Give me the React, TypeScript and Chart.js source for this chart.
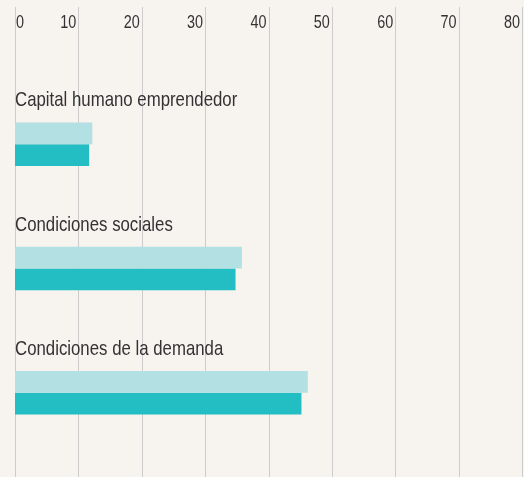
import React, { useEffect, useRef } from "react";
import { Chart, registerables } from "chart.js";

Chart.register(...registerables);

const categories = ["Capital humano emprendedor", "Condiciones sociales", "Condiciones de la demanda"];
const seriesLightValues = [12.2, 35.8, 46.2];
const seriesDarkValues = [11.7, 34.8, 45.2];
const tickValues = [0, 10, 20, 30, 40, 50, 60, 70, 80];

const FONT = '"Liberation Sans", Arial, sans-serif';
const BG = "#f7f3ef";
const SQUEEZE = 0.8;

function narrowText(ctx: CanvasRenderingContext2D, text: string, x: number, y: number, align: CanvasTextAlign) {
  ctx.save();
  ctx.translate(x, y);
  ctx.scale(SQUEEZE, 1);
  ctx.textAlign = align;
  ctx.fillText(text, 0, 0);
  ctx.restore();
}

const customPlugin = {
  id: "customDraw",
  beforeDraw(chart: any) {
    const { ctx, width, height } = chart;
    ctx.save();
    ctx.fillStyle = BG;
    ctx.fillRect(0, 0, width, height);
    ctx.restore();
  },
  beforeDatasetsDraw(chart: any) {
    const { ctx, height } = chart;
    const xs = chart.scales.x;
    ctx.save();
    ctx.strokeStyle = "#cccccc";
    ctx.lineWidth = 1;
    tickValues.forEach((v) => {
      const x = Math.round(xs.getPixelForValue(v)) + 0.5;
      ctx.beginPath();
      ctx.moveTo(x, 7);
      ctx.lineTo(x, height);
      ctx.stroke();
    });
    ctx.fillStyle = "#333333";
    ctx.font = `18px ${FONT}`;
    ctx.textBaseline = "alphabetic";
    tickValues.forEach((v, i) => {
      const x = xs.getPixelForValue(v);
      if (i === 0) {
        narrowText(ctx, String(v), x + 1, 28, "left");
      } else {
        narrowText(ctx, String(v), x - 2, 28, "right");
      }
    });
    const ys = chart.scales.y;
    ctx.font = `21px ${FONT}`;
    categories.forEach((c, i) => {
      const y = ys.getPixelForValue(i);
      narrowText(ctx, c, xs.getPixelForValue(0), y - 38, "left");
    });
    ctx.restore();
  },
};

export default function App() {
  const ref = useRef<HTMLCanvasElement>(null);
  useEffect(() => {
    if (!ref.current) return;
    const chart = new Chart(ref.current, {
      type: "bar",
      data: {
        labels: categories,
        datasets: [
          {
            label: "Serie 1",
            data: seriesLightValues,
            backgroundColor: "#b3e0e3",
            barPercentage: 1,
            categoryPercentage: 0.35,
          },
          {
            label: "Serie 2",
            data: seriesDarkValues,
            backgroundColor: "#23bec3",
            barPercentage: 1,
            categoryPercentage: 0.35,
          },
        ],
      },
      options: {
        indexAxis: "y",
        animation: false,
        responsive: false,
        maintainAspectRatio: false,
        layout: { padding: { left: 15, right: 2, top: 82, bottom: 22 } },
        plugins: { legend: { display: false }, tooltip: { enabled: false } },
        scales: {
          x: { min: 0, max: 80, display: false },
          y: { display: false, offset: true },
        },
      },
      plugins: [customPlugin],
    });
    return () => chart.destroy();
  }, []);
  return (
    <div style={{ position: "fixed", left: 0, top: 0, width: 524, height: 477, background: BG }}>
      <canvas ref={ref} width={524} height={477} style={{ display: "block", width: 524, height: 477 }} />
    </div>
  );
}
